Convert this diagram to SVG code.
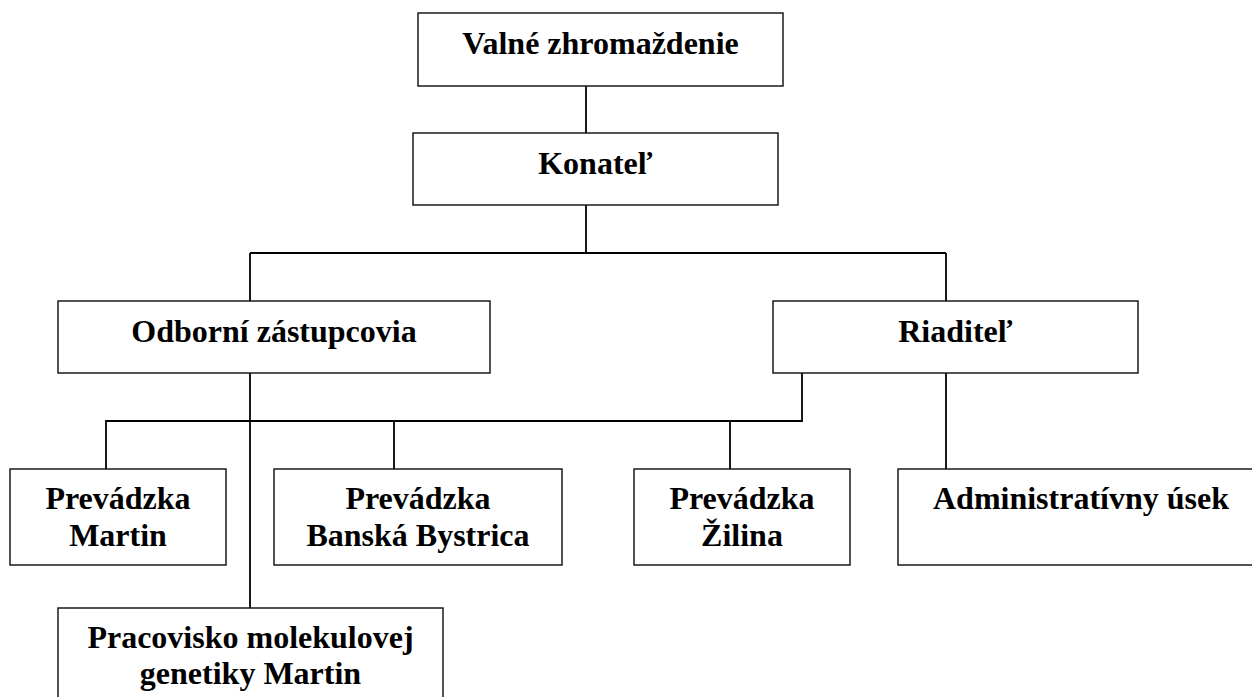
<svg xmlns="http://www.w3.org/2000/svg" width="1252" height="697" viewBox="0 0 1252 697">
<style>
.box{fill:#fff;stroke:#1a1a1a;stroke-width:1.5}
.lbl{font-family:"Liberation Serif","Times New Roman",serif;font-weight:bold;font-size:32px;fill:#000;text-anchor:middle}
.con{fill:none;stroke:#000;stroke-width:1.8}
</style>
<rect width="1252" height="697" fill="#fff"/>
<g id="connectors">
<path class="con" d="M586 86V133"/>
<path class="con" d="M586 205V253M250 253H946M250 253V301M946 253V301"/>
<path class="con" d="M250 373V608"/>
<path class="con" d="M802 373V421H106V469M394 421V469M730 421V469"/>
<path class="con" d="M946 373V469"/>
</g>
<g id="valne"><rect class="box" x="418" y="13" width="365" height="73"/><text class="lbl" x="600.5" y="54">Valné zhromaždenie</text></g>
<g id="konatel"><rect class="box" x="413" y="133" width="365" height="72"/><text class="lbl" x="595.5" y="174">Konateľ</text></g>
<g id="odborni"><rect class="box" x="58" y="301" width="432" height="72"/><text class="lbl" x="274" y="342">Odborní zástupcovia</text></g>
<g id="riaditel"><rect class="box" x="773" y="301" width="365" height="72"/><text class="lbl" x="955.5" y="342">Riaditeľ</text></g>
<g id="martin"><rect class="box" x="10" y="469" width="216" height="96"/><text class="lbl" x="118" y="509">Prevádzka<tspan x="118" dy="37">Martin</tspan></text></g>
<g id="banska"><rect class="box" x="274" y="469" width="288" height="96"/><text class="lbl" x="418" y="509">Prevádzka<tspan x="418" dy="37">Banská Bystrica</tspan></text></g>
<g id="zilina"><rect class="box" x="634" y="469" width="216" height="96"/><text class="lbl" x="742" y="509">Prevádzka<tspan x="742" dy="37">Žilina</tspan></text></g>
<g id="admin"><rect class="box" x="898" y="469" width="366" height="96"/><text class="lbl" x="1081" y="509">Administratívny úsek</text></g>
<g id="pracovisko"><rect class="box" x="58" y="608" width="385" height="100"/><text class="lbl" x="250.5" y="648">Pracovisko molekulovej<tspan x="250.5" dy="36">genetiky Martin</tspan></text></g>
</svg>
